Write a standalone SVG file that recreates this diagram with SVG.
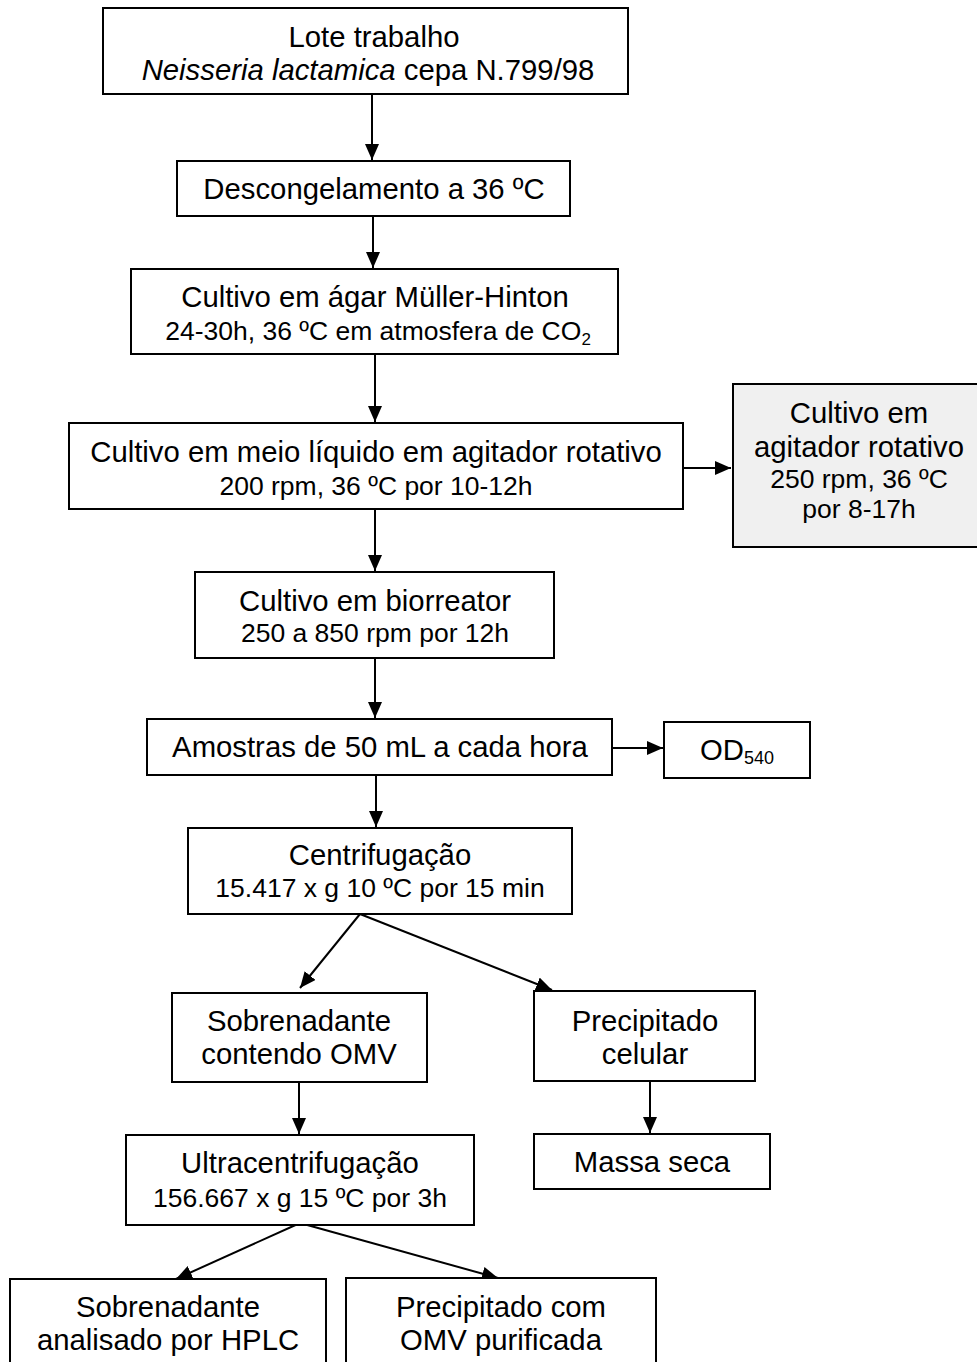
<svg xmlns="http://www.w3.org/2000/svg" width="977" height="1362" viewBox="0 0 977 1362">
<style>
  .box { fill: #ffffff; stroke: #000000; stroke-width: 2; }
  .gray { fill: #f0f0f0; stroke: #000000; stroke-width: 2; }
  .t { font-family: "Liberation Sans", Arial, sans-serif; font-size: 29.3px; fill: #000; text-anchor: middle; }
  .s { font-family: "Liberation Sans", Arial, sans-serif; font-size: 26.5px; fill: #000; text-anchor: middle; }
  .edge { stroke: #000; stroke-width: 2; fill: none; marker-end: url(#arr); }
</style>
<defs>
  <marker id="arr" markerUnits="userSpaceOnUse" markerWidth="18" markerHeight="14" refX="16" refY="7" orient="auto">
    <path d="M0,0 L16,7 L0,14 z" fill="#000"/>
  </marker>
</defs>
<rect x="0" y="0" width="977" height="1362" fill="#ffffff"/>

<g id="connectors">
  <line class="edge" x1="372" y1="94" x2="372" y2="160"/>
  <line class="edge" x1="373" y1="216" x2="373" y2="268"/>
  <line class="edge" x1="375" y1="354" x2="375" y2="422"/>
  <line class="edge" x1="683" y1="468" x2="731" y2="468"/>
  <line class="edge" x1="375" y1="509" x2="375" y2="571"/>
  <line class="edge" x1="375" y1="658" x2="375" y2="718"/>
  <line class="edge" x1="612" y1="748" x2="663" y2="748"/>
  <line class="edge" x1="376" y1="775" x2="376" y2="827"/>
  <line class="edge" x1="360" y1="914" x2="300" y2="988"/>
  <line class="edge" x1="360" y1="914" x2="552" y2="990"/>
  <line class="edge" x1="299" y1="1082" x2="299" y2="1134"/>
  <line class="edge" x1="650" y1="1081" x2="650" y2="1133"/>
  <line class="edge" x1="300" y1="1223" x2="176" y2="1279"/>
  <line class="edge" x1="300" y1="1223" x2="498" y2="1278"/>
</g>

<g id="lote">
  <rect class="box" x="103" y="8" width="525" height="86"/>
  <text class="t" x="374" y="47">Lote trabalho</text>
  <text class="t" x="368" y="80"><tspan font-style="italic">Neisseria lactamica</tspan> cepa N.799/98</text>
</g>

<g id="descongelamento">
  <rect class="box" x="177" y="161" width="393" height="55"/>
  <text class="t" x="374" y="199">Descongelamento a 36 ºC</text>
</g>

<g id="agar">
  <rect class="box" x="131" y="269" width="487" height="85"/>
  <text class="t" x="375" y="307">Cultivo em ágar Müller-Hinton</text>
  <text class="s" x="378" y="340">24-30h, 36 ºC em atmosfera de CO<tspan font-size="17" dy="5">2</tspan></text>
</g>

<g id="liquido">
  <rect class="box" x="69" y="423" width="614" height="86"/>
  <text class="t" x="376" y="462">Cultivo em meio líquido em agitador rotativo</text>
  <text class="s" x="376" y="495">200 rpm, 36 ºC por 10-12h</text>
</g>

<g id="agitador">
  <rect class="gray" x="733" y="384" width="245" height="163"/>
  <text class="t" x="859" y="423">Cultivo em</text>
  <text class="t" x="859" y="457">agitador rotativo</text>
  <text class="s" x="859" y="488">250 rpm, 36 ºC</text>
  <text class="s" x="859" y="518">por 8-17h</text>
</g>

<g id="biorreator">
  <rect class="box" x="195" y="572" width="359" height="86"/>
  <text class="t" x="375" y="611">Cultivo em biorreator</text>
  <text class="s" x="375" y="642">250 a 850 rpm por 12h</text>
</g>

<g id="amostras">
  <rect class="box" x="147" y="719" width="465" height="56"/>
  <text class="t" x="380" y="757">Amostras de 50 mL a cada hora</text>
</g>

<g id="od">
  <rect class="box" x="664" y="722" width="146" height="56"/>
  <text class="t" x="737" y="760">OD<tspan font-size="18" dy="4">540</tspan></text>
</g>

<g id="centrifugacao">
  <rect class="box" x="188" y="828" width="384" height="86"/>
  <text class="t" x="380" y="865">Centrifugação</text>
  <text class="s" x="380" y="897">15.417 x g 10 ºC por 15 min</text>
</g>

<g id="sobrenadante">
  <rect class="box" x="172" y="993" width="255" height="89"/>
  <text class="t" x="299" y="1031">Sobrenadante</text>
  <text class="t" x="299" y="1064">contendo OMV</text>
</g>

<g id="precipitado">
  <rect class="box" x="534" y="991" width="221" height="90"/>
  <text class="t" x="645" y="1031">Precipitado</text>
  <text class="t" x="645" y="1064">celular</text>
</g>

<g id="massa">
  <rect class="box" x="534" y="1134" width="236" height="55"/>
  <text class="t" x="652" y="1172">Massa seca</text>
</g>

<g id="ultra">
  <rect class="box" x="126" y="1135" width="348" height="90"/>
  <text class="t" x="300" y="1173">Ultracentrifugação</text>
  <text class="s" x="300" y="1207">156.667 x g 15 ºC por 3h</text>
</g>

<g id="hplc">
  <rect class="box" x="10" y="1279" width="316" height="100"/>
  <text class="t" x="168" y="1317">Sobrenadante</text>
  <text class="t" x="168" y="1350">analisado por HPLC</text>
</g>

<g id="omv">
  <rect class="box" x="346" y="1278" width="310" height="100"/>
  <text class="t" x="501" y="1317">Precipitado com</text>
  <text class="t" x="501" y="1350">OMV purificada</text>
</g>
</svg>
